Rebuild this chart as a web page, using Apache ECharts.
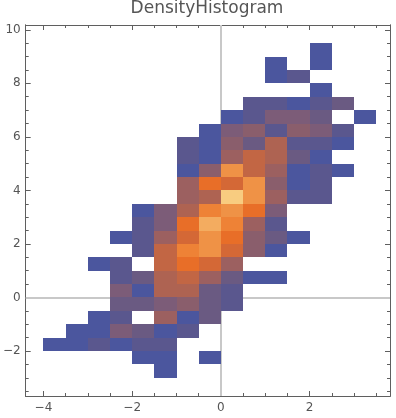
<!DOCTYPE html>
<html>
<head>
<meta charset="utf-8">
<script src="https://cdn.jsdelivr.net/npm/echarts@6/dist/echarts.min.js"></script>
<style>html,body{margin:0;padding:0;background:#fff}#c{width:396px;height:418px}</style>
</head>
<body>
<div id="c"></div>
<script>
// ---- data ----
const binWidth = 0.5;
const binHeight = 0.5;
// left edges of x bins (columns of the counts matrix)
const xBinStarts = [-4.0,-3.5,-3.0,-2.5,-2.0,-1.5,-1.0,-0.5,0.0,0.5,1.0,1.5,2.0,2.5,3.0];
// bottom edges of y bins (rows of the counts matrix)
const yBinStarts = [9.0,8.5,8.0,7.5,7.0,6.5,6.0,5.5,5.0,4.5,4.0,3.5,3.0,2.5,2.0,1.5,1.0,0.5,0.0,-0.5,-1.0,-1.5,-2.0,-2.5,-3.0];
const counts = [
  [0,0,0,0,0,0,0,0,0,0,0,0,1,0,0],
  [0,0,0,0,0,0,0,0,0,0,1,0,1,0,0],
  [0,0,0,0,0,0,0,0,0,0,1,2,0,0,0],
  [0,0,0,0,0,0,0,0,0,0,0,0,1,0,0],
  [0,0,0,0,0,0,0,0,0,2,2,1,2,3,0],
  [0,0,0,0,0,0,0,0,1,2,4,4,3,0,1],
  [0,0,0,0,0,0,0,1,4,5,2,5,4,2,0],
  [0,0,0,0,0,0,2,1,5,3,7,2,2,1,0],
  [0,0,0,0,0,0,2,1,6,8,7,3,1,0,0],
  [0,0,0,0,0,0,1,5,12,8,6,1,2,1,0],
  [0,0,0,0,0,0,6,10,9,12,5,1,2,0,0],
  [0,0,0,0,0,0,6,7,14,12,6,2,2,0,0],
  [0,0,0,0,1,4,7,11,12,10,4,0,0,0,0],
  [0,0,0,0,2,4,10,13,11,6,2,0,0,0,0],
  [0,0,0,1,2,6,9,12,10,5,3,1,0,0,0],
  [0,0,0,0,2,8,11,12,9,5,1,0,0,0,0],
  [0,0,1,2,0,8,10,9,6,0,0,0,0,0,0],
  [0,0,0,2,3,7,8,6,3,1,1,0,0,0,0],
  [0,0,0,4,1,7,7,3,2,0,0,0,0,0,0],
  [0,0,0,3,3,4,5,3,2,0,0,0,0,0,0],
  [0,0,1,2,0,6,1,3,0,0,0,0,0,0,0],
  [0,1,1,4,3,1,2,0,0,0,0,0,0,0,0],
  [1,1,2,1,2,2,0,0,0,0,0,0,0,0,0],
  [0,0,0,0,1,1,0,1,0,0,0,0,0,0,0],
  [0,0,0,0,0,1,0,0,0,0,0,0,0,0,0]
];
const xTickLabels = [-4,-2,0,2];
const yTickLabels = [-2,0,2,4,6,8,10];
const xMin = -4.4, xMax = 3.81;
const yMin = -3.68, yMax = 10.18;
const palette = ['#4b569e','#5a578e','#6a5a82','#7c5c78','#8a5e6c','#9c6060','#ae6352','#c26644','#d46836','#e86e28','#ee8236','#ef9246','#f3ac60','#f8cc80'];

// ---- build ----
const cells = [];
yBinStarts.forEach((y, r) => {
  xBinStarts.forEach((x, c) => {
    const v = counts[r][c];
    if (v > 0) cells.push([x, y, v]);
  });
});
const xMinor = [], yMinor = [];
for (let v = -4; v <= 3.5; v += 0.5) xMinor.push(v);
for (let v = -3.5; v <= 10; v += 0.5) yMinor.push(v);

const frameColor = '#5f5f5f';
const textColor = '#555';
const font = 'DejaVu Sans';
const fmt = v => String(v).replace('-', '\u2212');

function xAx(pos, ticks, len, labels) {
  return {
    type: 'value', position: pos, min: xMin, max: xMax,
    axisLine: {show: true, onZero: false, lineStyle: {color: frameColor, width: 1}},
    axisTick: {show: true, inside: true, length: len, customValues: ticks, lineStyle: {color: frameColor, width: 1}},
    axisLabel: labels ? {show: true, customValues: ticks, formatter: fmt, color: textColor, fontSize: 12, fontFamily: font, margin: 6} : {show: false},
    splitLine: {show: false}
  };
}
function yAx(pos, ticks, len, labels) {
  return {
    type: 'value', position: pos, min: yMin, max: yMax,
    axisLine: {show: true, onZero: false, lineStyle: {color: frameColor, width: 1}},
    axisTick: {show: true, inside: true, length: len, customValues: ticks, lineStyle: {color: frameColor, width: 1}},
    axisLabel: labels ? {show: true, customValues: ticks, formatter: fmt, color: textColor, fontSize: 12, fontFamily: font, margin: 5} : {show: false},
    splitLine: {show: false}
  };
}

const chart = echarts.init(document.getElementById('c'), null, {renderer: 'canvas'});
chart.setOption({
  animation: false,
  backgroundColor: '#fff',
  title: {
    text: 'DensityHistogram', left: 207, top: 0, padding: 0, textAlign: 'center',
    textStyle: {fontFamily: font, fontSize: 17, fontWeight: 'normal', color: textColor}
  },
  grid: {left: 23, right: 6, top: 25, bottom: 22, containLabel: false},
  xAxis: [
    xAx('bottom', xTickLabels, 5, true),
    xAx('bottom', xMinor, 3, false),
    xAx('top', xTickLabels, 5, false),
    xAx('top', xMinor, 3, false)
  ],
  yAxis: [
    yAx('left', yTickLabels, 5, true),
    yAx('left', yMinor, 3, false),
    yAx('right', yTickLabels, 5, false),
    yAx('right', yMinor, 3, false)
  ],
  visualMap: {
    type: 'continuous', show: false, min: 1, max: palette.length, dimension: 2, seriesIndex: 0,
    inRange: {color: palette}
  },
  series: [
    {
      type: 'custom', z: 3, xAxisIndex: 0, yAxisIndex: 0,
      data: cells,
      renderItem: function (params, api) {
        const x = api.value(0), y = api.value(1);
        const p0 = api.coord([x, y + binHeight]);
        const p1 = api.coord([x + binWidth, y]);
        const x0 = Math.round(p0[0]), y0 = Math.round(p0[1]);
        const x1 = Math.round(p1[0]), y1 = Math.round(p1[1]);
        return {
          type: 'rect',
          shape: {x: x0, y: y0, width: x1 - x0, height: y1 - y0},
          style: {fill: api.visual('color')}
        };
      }
    },
    {
      type: 'line', z: 1, xAxisIndex: 0, yAxisIndex: 0, data: [], silent: true,
      markLine: {
        z: 1, silent: true, symbol: ['none', 'none'], label: {show: false},
        lineStyle: {color: '#c8c8c8', width: 2, type: 'solid'},
        emphasis: {disabled: true},
        data: [{xAxis: 0}, {yAxis: 0}]
      }
    }
  ]
});
</script>
</body>
</html>
